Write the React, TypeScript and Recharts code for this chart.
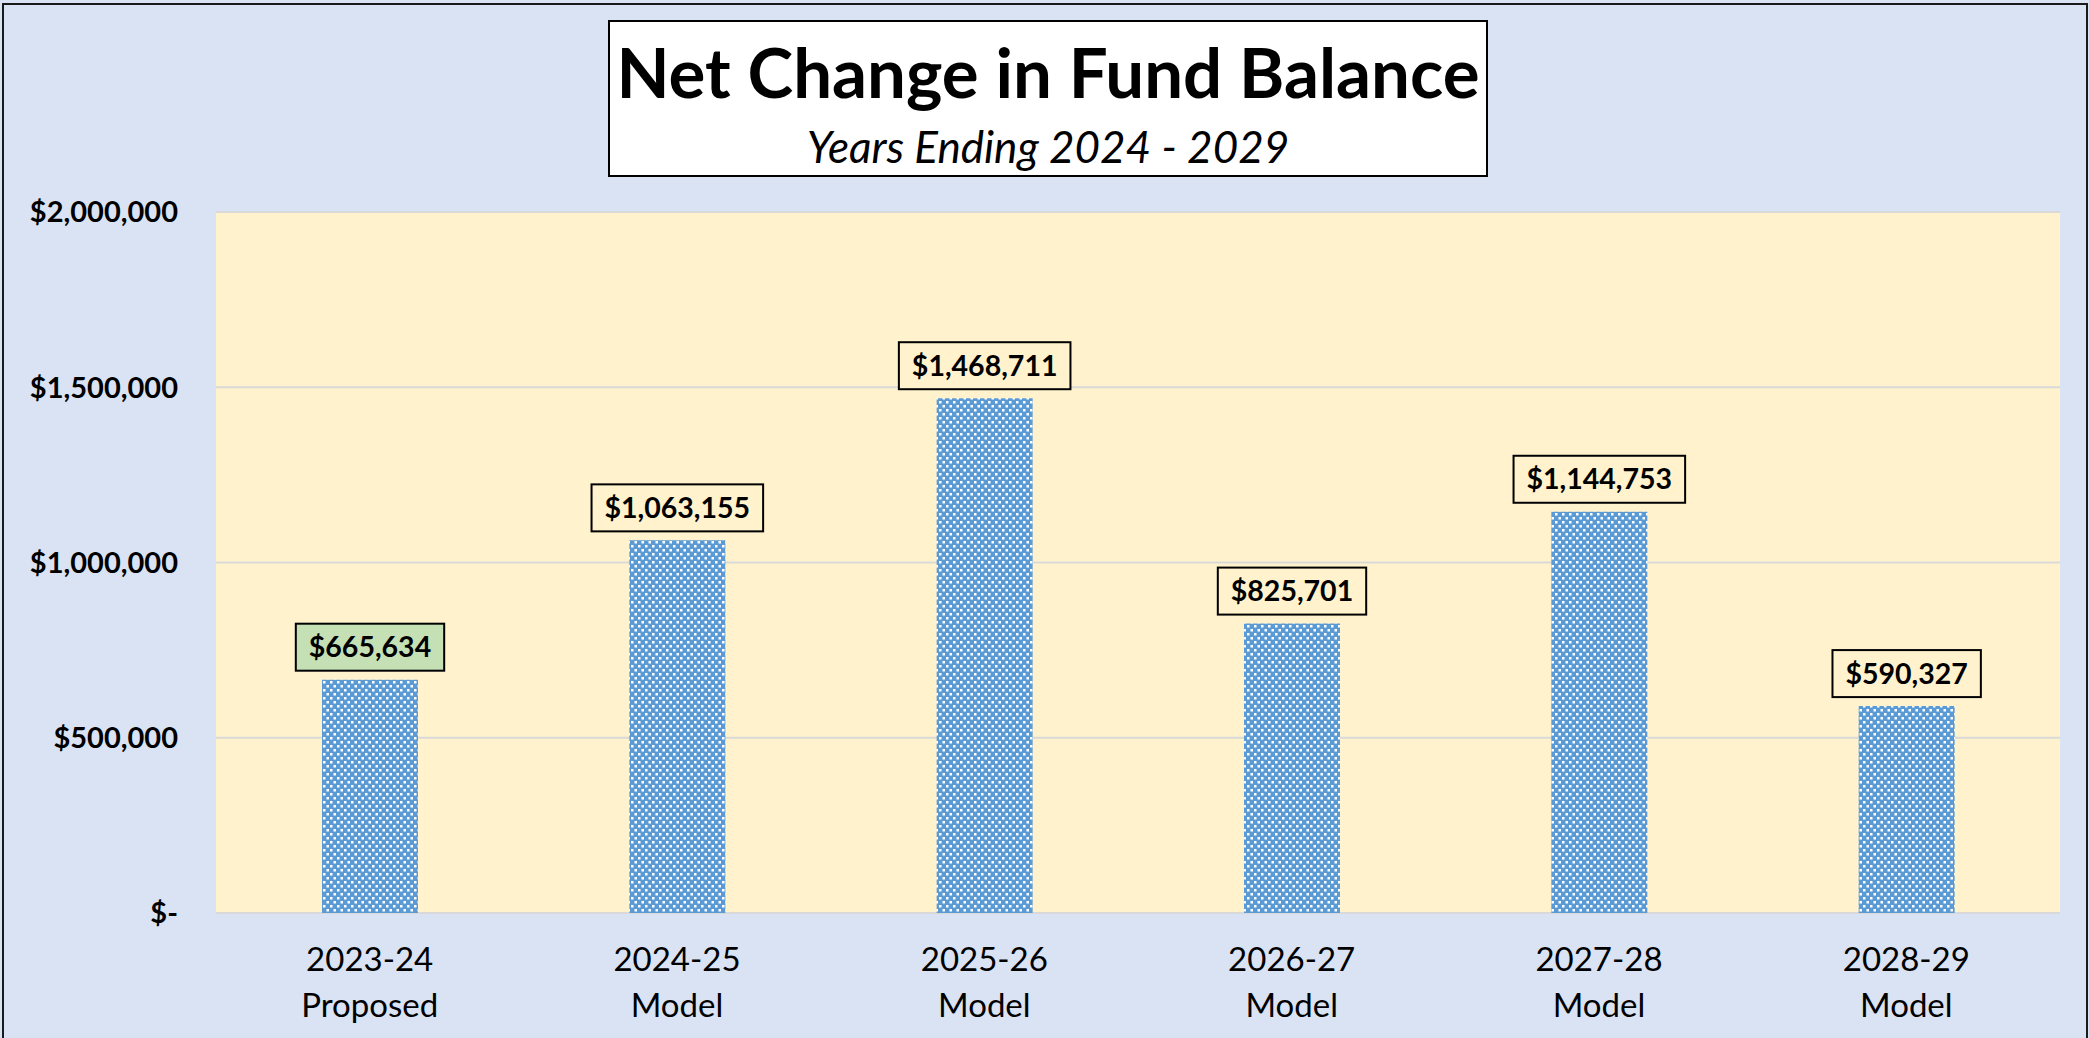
import React from 'react';
import { BarChart, Bar, XAxis, YAxis, CartesianGrid, LabelList } from 'recharts';

const years = ['2023-24', '2024-25', '2025-26', '2026-27', '2027-28', '2028-29'];
const stages = ['Proposed', 'Model', 'Model', 'Model', 'Model', 'Model'];
const netChange = [665634, 1063155, 1468711, 825701, 1144753, 590327];
const yTicks = [0, 500000, 1000000, 1500000, 2000000];

const data = years.map((y, i) => ({ year: y, stage: stages[i], value: netChange[i] }));

const FONT = 'Lato, "Open Sans", sans-serif';

const money = (v: number) => (v === 0 ? '$-' : '$' + v.toLocaleString('en-US'));

let ctx: CanvasRenderingContext2D | null = null;
function measure(text: string, font: string) {
  if (!ctx) ctx = document.createElement('canvas').getContext('2d');
  if (!ctx) return text.length * 15;
  ctx.font = font;
  return ctx.measureText(text).width;
}

const YearTick = (props: any) => {
  const { x, y, payload } = props;
  const i = payload.index ?? years.indexOf(payload.value);
  return (
    <text x={x} y={y} textAnchor="middle" fontFamily={FONT} fontSize={33} fill="#000">
      <tspan x={x} dy={58}>{payload.value}</tspan>
      <tspan x={x} dy={46}>{stages[i]}</tspan>
    </text>
  );
};

const ValueBox = (props: any) => {
  const { x, y, width, value, index } = props;
  const text = money(Number(value));
  const tw = measure(text, `bold 28.5px ${FONT}`);
  const w = tw + 26;
  const h = 47;
  const cx = Number(x) + Number(width) / 2;
  const top = Number(y) - 9 - h;
  return (
    <g>
      <rect x={cx - w / 2} y={top} width={w} height={h} fill={index === 0 ? '#C5E0B4' : '#FFF2CC'} stroke="#000" strokeWidth={2} />
      <text x={cx} y={top + h / 2 + 10} textAnchor="middle" fontFamily={FONT} fontWeight="bold" fontSize={28.5} fill="#000">
        {text}
      </text>
    </g>
  );
};

export default function App() {
  return (
    <div style={{ position: 'absolute', left: 0, top: 0, width: 2089, height: 1038, background: '#DAE3F3', overflow: 'hidden', fontFamily: FONT }}>
      <svg width={0} height={0} style={{ position: 'absolute' }}>
        <defs>
          <pattern id="dots" width={7} height={8} patternUnits="userSpaceOnUse">
            <rect x={0} y={0} width={7} height={8} fill="#5B9BD5" />
            <rect x={1} y={1} width={2.5} height={2.5} fill="#fff" />
            <rect x={4.5} y={5} width={2.5} height={2.5} fill="#fff" />
          </pattern>
        </defs>
      </svg>
      <BarChart width={2089} height={1038} data={data} margin={{ top: 212, right: 29, bottom: 25, left: 16 }}>
        <CartesianGrid vertical={false} stroke="#D9D9D9" strokeWidth={2} fill="#FFF2CC" />
        <XAxis dataKey="year" height={100} axisLine={false} tickLine={false} tickSize={0} tickMargin={0} tick={<YearTick />} interval={0} />
        <YAxis
          width={200}
          domain={[0, 2000000]}
          ticks={yTicks}
          axisLine={false}
          tickLine={false}
          tickSize={0}
          tickMargin={38}
          tickFormatter={money}
          tick={{ fontFamily: FONT, fontWeight: 'bold', fontSize: 29, fill: '#000' }}
        />
        <Bar dataKey="value" fill="url(#dots)" barSize={96} isAnimationActive={false}>
          <LabelList dataKey="value" content={<ValueBox />} />
        </Bar>
      </BarChart>
      <div style={{ position: 'absolute', left: 2, top: 3, width: 2082, height: 1060, border: '2px solid #1a1a1a', pointerEvents: 'none' }} />
      <div
        style={{
          position: 'absolute', left: 608, top: 20, width: 876, height: 153, background: '#fff',
          border: '2px solid #000', textAlign: 'center', color: '#000',
        }}
      >
        <div style={{ position: 'absolute', left: 0, right: 0, top: 50 - 40, fontSize: 69, fontWeight: 'bold', lineHeight: '80px' }}>
          Net Change in Fund Balance
        </div>
        <div style={{ position: 'absolute', left: 0, right: 0, top: 124 - 25, fontSize: 44, fontStyle: 'italic', lineHeight: '50px' }}>
          Years Ending 2024 - 2029
        </div>
      </div>
    </div>
  );
}
